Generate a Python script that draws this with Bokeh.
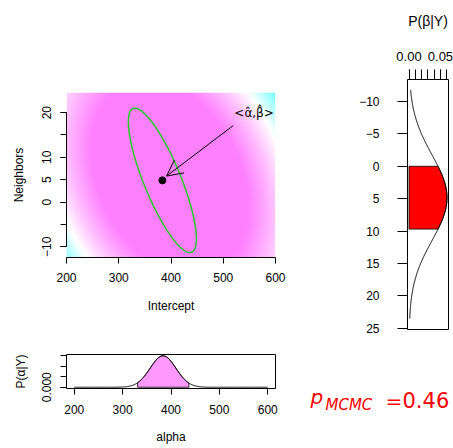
import numpy as np
from bokeh.plotting import figure
from bokeh.layouts import row, column
from bokeh.models import (Range1d, FixedTicker, LinearColorMapper, Arrow,
                          OpenHead, Label, PrintfTickFormatter)
from bokeh.core.properties import value
from bokeh.embed import file_html
from bokeh.resources import INLINE

FONT = "Liberation Sans"
MATH_FONT = "DejaVu Sans"

# Posterior summary for the intercept (alpha) and the Neighbors slope (beta)
alpha_hat = 383.5
beta_hat = 4.85
alpha_sd = 26.6
beta_sd = 6.6
alpha_beta_corr = -0.81
ellipse_prob = 0.95

# Shaded posterior intervals
alpha_interval = [331.0, 437.0]
beta_interval = [0.0, 9.7]

# Ranges over which the marginal densities are traced
alpha_grid_limits = [200.0, 600.0]
beta_grid_limits = [-11.8, 23.5]

# Background surface: quadratic form around its centre (level 1 is white)
surface_center = [398.0, 5.3]
surface_quad = [[1.944e-5, 3.91e-5], [3.91e-5, 9.15e-4]]
surface_levels = [0.0, 0.4, 1.0, 1.4]  # full magenta .. white .. full cyan

# Ticks
intercept_ticks = [200, 300, 400, 500, 600]
neighbors_ticks = [-10, -5, 0, 5, 10, 15, 20]
neighbors_labeled = [-10, 0, 5, 10, 20]
beta_ticks = [-10, -5, 0, 5, 10, 15, 20, 25]
beta_density_ticks = [0.0, 0.01, 0.02, 0.03, 0.04, 0.05, 0.06]
beta_density_labeled = [0.0, 0.05]
alpha_density_ticks = [0.0, 0.005, 0.010, 0.015]
alpha_density_labeled = [0.0]

p_mcmc = 0.46


def minus(v):
    return str(v).replace("-", "\u2212")


def style_axis(ax, tick_out=6, standoff=9, label_standoff=14,
               label_size="12px", tick_size="12px"):
    ax.major_tick_out = tick_out
    ax.major_tick_in = 0
    ax.minor_tick_out = tick_out
    ax.minor_tick_in = 0
    ax.axis_line_color = "black"
    ax.major_tick_line_color = "black"
    ax.minor_tick_line_color = "black"
    ax.major_label_text_font = FONT
    ax.major_label_text_font_size = tick_size
    ax.major_label_text_color = "black"
    ax.major_label_standoff = standoff
    ax.axis_label_text_font = FONT
    ax.axis_label_text_font_size = label_size
    ax.axis_label_text_font_style = "normal"
    ax.axis_label_text_color = "black"
    ax.axis_label_standoff = label_standoff


def normal_pdf(x, m, s):
    return np.exp(-0.5 * ((x - m) / s) ** 2) / (s * np.sqrt(2 * np.pi))


def surface_palette(n=256):
    q0, q_sat, q_white, q_cyan = surface_levels
    cols = []
    for q in np.linspace(q0, q_cyan, n):
        if q <= q_white:
            s = 0.5 * min(1.0, (q_white - q) / (q_white - q_sat))
            cols.append("#%02x%02x%02x" % (255, round(255 * (1 - s)), 255))
        else:
            s = 0.5 * (q - q_white) / (q_cyan - q_white)
            cols.append("#%02x%02x%02x" % (round(255 * (1 - s)), 255, 255))
    return cols


# ---------------- joint panel ----------------
x_lo, x_hi = 200.0, 600.0
y_lo, y_hi = -12.4, 24.5
main = figure(width=290, height=330, x_range=Range1d(x_lo, x_hi),
              y_range=Range1d(y_lo, y_hi), output_backend="svg",
              toolbar_location=None, min_border_left=66, min_border_right=15,
              min_border_top=92, min_border_bottom=73)
main.outline_line_color = None
main.grid.visible = False
main.background_fill_color = "white"

ga = np.linspace(x_lo, x_hi, 320)
gb = np.linspace(y_lo, y_hi, 260)
GA, GB = np.meshgrid(ga, gb)
du = GA - surface_center[0]
dv = GB - surface_center[1]
Q = (surface_quad[0][0] * du ** 2 + 2 * surface_quad[0][1] * du * dv
     + surface_quad[1][1] * dv ** 2)
mapper = LinearColorMapper(palette=surface_palette(), low=surface_levels[0],
                           high=surface_levels[-1])
main.image(image=[Q], x=x_lo, y=y_lo, dw=x_hi - x_lo, dh=y_hi - y_lo,
           color_mapper=mapper)

# credible ellipse of the joint posterior
t = np.linspace(0, 2 * np.pi, 240)
r = np.sqrt(-2 * np.log(1 - ellipse_prob))
ex = alpha_hat + r * alpha_sd * np.cos(t)
ey = beta_hat + r * beta_sd * (alpha_beta_corr * np.cos(t)
                               + np.sqrt(1 - alpha_beta_corr ** 2) * np.sin(t))
main.line(ex, ey, line_color="#22cc22", line_width=1.5)
main.scatter([alpha_hat], [beta_hat], size=7, color="black")

main.add_layout(Arrow(end=OpenHead(size=16, line_width=1, line_color="black"),
                      x_start=519, y_start=17.1, x_end=391.4, y_end=5.8,
                      line_width=1, line_color="black"))
main.add_layout(Label(x=559, y=19.85, text="<\u03b1\u0302,\u03b2\u0302>",
                      text_align="center", text_baseline="alphabetic",
                      text_font=MATH_FONT, text_font_size="12px",
                      text_color="black"))

xa = main.xaxis[0]
xa.ticker = FixedTicker(ticks=intercept_ticks)
xa.bounds = (200, 600)
xa.axis_label = "Intercept"
style_axis(xa, standoff=9, label_standoff=14)

ya = main.yaxis[0]
ya.ticker = FixedTicker(ticks=neighbors_labeled, minor_ticks=neighbors_ticks)
ya.bounds = (-10, 20)
ya.axis_label = "Neighbors"
ya.major_label_orientation = "vertical"
ya.major_label_overrides = {v: minus(v) for v in neighbors_labeled if v < 0}
style_axis(ya, standoff=9, label_standoff=14)

# ---------------- alpha marginal ----------------
bot = figure(width=290, height=118, x_range=Range1d(184, 616),
             y_range=Range1d(-0.0006, 0.0156), output_backend="svg",
             toolbar_location=None, min_border_left=66, min_border_right=15,
             min_border_top=24, min_border_bottom=60)
bot.grid.visible = False
bot.outline_line_color = "black"
bot.outline_line_width = 1

a = np.linspace(alpha_grid_limits[0], alpha_grid_limits[1], 400)
da = normal_pdf(a, alpha_hat, alpha_sd)
a_in = np.linspace(alpha_interval[0], alpha_interval[1], 120)
da_in = normal_pdf(a_in, alpha_hat, alpha_sd)
bot.patch(np.concatenate([[a_in[0]], a_in, [a_in[-1]]]),
          np.concatenate([[0], da_in, [0]]),
          fill_color="#ff99ff", line_color="black", line_width=0.8)
bot.line(a, da, line_color="black", line_width=1)

bxa = bot.xaxis[0]
bxa.ticker = FixedTicker(ticks=intercept_ticks)
bxa.bounds = (200, 600)
bxa.axis_label = "alpha"
style_axis(bxa, standoff=10, label_standoff=13)

bya = bot.yaxis[0]
bya.ticker = FixedTicker(ticks=alpha_density_labeled,
                         minor_ticks=alpha_density_ticks)
bya.formatter = PrintfTickFormatter(format="%.3f")
bya.bounds = (0, 0.015)
bya.axis_label = "P(\u03b1|Y)"
bya.major_label_orientation = "vertical"
style_axis(bya, standoff=9, label_standoff=12)

# ---------------- beta marginal ----------------
R_LEFT, R_RIGHT = 117, 5
right = figure(width=163, height=340, x_range=Range1d(-0.0024, 0.0628),
               y_range=Range1d(25.2, -13.4), x_axis_location="above",
               output_backend="svg", toolbar_location=None,
               min_border_left=R_LEFT, min_border_right=R_RIGHT,
               min_border_top=79, min_border_bottom=11)
right.grid.visible = False
right.outline_line_color = "black"
right.outline_line_width = 1

b = np.linspace(beta_grid_limits[0], beta_grid_limits[1], 400)
db = normal_pdf(b, beta_hat, beta_sd)
b_in = np.linspace(beta_interval[0], beta_interval[1], 120)
db_in = normal_pdf(b_in, beta_hat, beta_sd)
right.patch(np.concatenate([[0], db_in, [0]]),
            np.concatenate([[b_in[0]], b_in, [b_in[-1]]]),
            fill_color="#ff0000", line_color="black", line_width=0.8)
right.line(db, b, line_color="black", line_width=1)

rxa = right.xaxis[0]
rxa.ticker = FixedTicker(ticks=beta_density_labeled,
                         minor_ticks=beta_density_ticks)
rxa.formatter = PrintfTickFormatter(format="%.2f")
rxa.bounds = (0, 0.06)
rxa.axis_label = "P(\u03b2|Y)"
style_axis(rxa, tick_out=10, standoff=9, label_standoff=20,
           label_size="14px", tick_size="13px")

rya = right.yaxis[0]
rya.ticker = FixedTicker(ticks=beta_ticks)
rya.bounds = (-10, 25)
rya.major_label_orientation = "horizontal"
rya.major_label_overrides = {v: minus(v) for v in beta_ticks if v < 0}
style_axis(rya, tick_out=10, standoff=18)

right.add_layout(Label(x=-0.1026, y=4.5, text="\u03b2", text_align="center",
                       text_baseline="middle", text_font=FONT,
                       text_font_size="12px", text_color="black"))

# ---------------- posterior probability statement ----------------
# a bare strip with a pixel-like coordinate system
ptxt = figure(width=163, height=108, x_range=Range1d(290, 453),
              y_range=Range1d(448, 340), x_axis_type=None, y_axis_type=None,
              output_backend="svg", toolbar_location=None,
              min_border_left=0, min_border_right=0,
              min_border_top=0, min_border_bottom=0)
ptxt.grid.visible = False
ptxt.outline_line_color = None

red = "#ff0000"
stmt_x = [310, 325, 385, 402]
stmt_y = [396.0, 404.0, 400.0, 399.5]
stmt_text = ["p", "MCMC", "=", "%.2f" % p_mcmc]
stmt_size = ["20px", "15px", "20px", "21px"]
stmt_style = ["italic", "italic", "normal", "normal"]
for px, py, txt, size, style in zip(stmt_x, stmt_y, stmt_text, stmt_size,
                                    stmt_style):
    ptxt.text(x=[px], y=[py], text=[txt], text_align="left",
              text_baseline="alphabetic", text_font=value(MATH_FONT),
              text_font_size=size, text_font_style=style, text_color=red)

layout = row(column(main, bot), column(right, row(ptxt)))
open("out.html", "w").write(file_html(layout, INLINE))
